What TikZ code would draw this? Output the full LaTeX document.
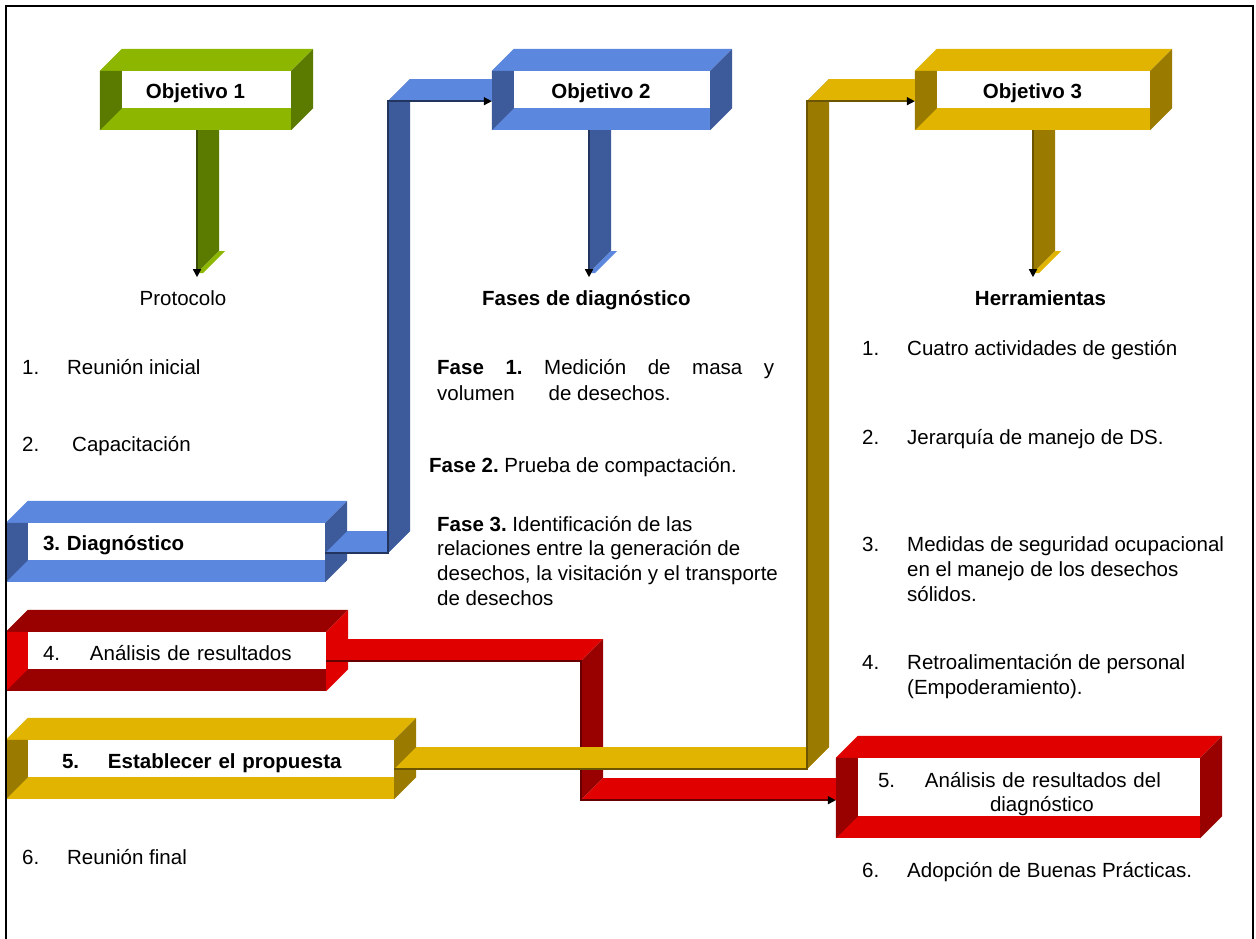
\documentclass[tikz,border=0pt]{standalone}
\usepackage{fontspec}
\setmainfont{Liberation Sans}
\frenchspacing
\usetikzlibrary{arrows.meta,calc}
\pgfdeclarelayer{background}
\pgfsetlayers{background,main}

\definecolor{grnlt}{HTML}{8DB600}
\definecolor{grndk}{HTML}{5B7B00}
\definecolor{grnln}{HTML}{3A4D00}
\definecolor{blult}{HTML}{5B87DE}
\definecolor{bludk}{HTML}{3D5B9B}
\definecolor{bluln}{HTML}{22355E}
\definecolor{yellt}{HTML}{E0B400}
\definecolor{yeldk}{HTML}{9A7B00}
\definecolor{yelln}{HTML}{6B5500}
\definecolor{redlt}{HTML}{E00000}
\definecolor{reddk}{HTML}{990000}
\definecolor{redln}{HTML}{660000}

% frame round a white box node: node, face colour, side colour
\newcommand{\frontbox}[3]{%
  \begin{pgfonlayer}{background}
    \fill[#2] ($(#1.north west)+(-22,0)$) rectangle ($(#1.south east)+(0,22)$);
    \fill[#2] ($(#1.north west)+(-22,0)$) -- ($(#1.north west)+(0,-22)$)
      -- ($(#1.north east)+(22,-22)$) -- (#1.north east) -- cycle;
    \fill[#3] ($(#1.north west)+(-22,0)$) -- (#1.north west) -- (#1.south west)
      -- ($(#1.south west)+(-22,22)$) -- cycle;
    \fill[#3] (#1.north east) -- ($(#1.north east)+(22,-22)$)
      -- ($(#1.south east)+(22,0)$) -- ($(#1.south east)+(0,22)$) -- cycle;
  \end{pgfonlayer}}

\begin{document}
\begin{tikzpicture}[
  x=1pt, y=-1pt,
  every node/.style={font=\fontsize{20.5}{24.6}\selectfont, inner sep=0pt},
  box/.style={fill=white, inner sep=0pt, text height=19pt, text depth=0pt},
  item/.style={anchor=base west, align=left},
  link/.style={draw=#1, line width=1.5pt, line join=miter,
    -{Triangle[length=8pt,width=8pt,color=black]}}
]
\path[use as bounding box] (0,0) rectangle (1256,939);
\draw[line width=1.5pt] (6,939) -- (6,6) -- (1253,6) -- (1253,939);

% top row
\node[box, minimum width=169pt, minimum height=37pt] (obj1) at (206.5,89.5)
  {\hspace*{-22pt}\textbf{Objetivo 1}};
\node[box, minimum width=196pt, minimum height=37pt] (obj2) at (612,89.5)
  {\hspace*{-22pt}\textbf{Objetivo 2}};
\node[box, minimum width=213pt, minimum height=37pt] (obj3) at (1043.5,89.5)
  {\hspace*{-22pt}\textbf{Objetivo 3}};
\frontbox{obj1}{grnlt}{grndk}
\frontbox{obj2}{blult}{bludk}
\frontbox{obj3}{yellt}{yeldk}

% left column boxes
\node[box, text width=297pt, align=left, minimum height=37pt, text height=17pt] (diag) at (176.5,541.5)
  {\hspace*{15pt}\textbf{3. Diagnóstico}};
\node[box, text width=298pt, align=left, minimum height=37pt] (ana) at (177,650.5)
  {\hspace*{15pt}\makebox[47pt][l]{4.}Análisis de resultados};
\node[box, text width=366pt, align=left, minimum height=37pt, text height=20pt] (est) at (211,758.5)
  {\hspace*{34pt}\textbf{\makebox[46pt][l]{5.}Establecer el propuesta}};
\node[box, text width=342pt, align=left, minimum height=58pt, text height=29pt, text depth=29pt] (res) at (1029,787)
  {\hspace*{20pt}\makebox[47pt][l]{5.}Análisis de resultados del\\
   \hspace*{132pt}diagnóstico};
\frontbox{diag}{blult}{bludk}
\frontbox{ana}{reddk}{redlt}
\frontbox{est}{yellt}{yeldk}
\frontbox{res}{redlt}{reddk}

% texts
\node[anchor=base] (prot) at (183,305) {Protocolo};
\node[item] (l1) at (22,374) {\makebox[45pt][l]{1.}Reunión inicial};
\node[item] (l2) at (22,451) {\makebox[50pt][l]{2.}Capacitación};
\node[item] (l6) at (22,864) {\makebox[45pt][l]{6.}Reunión final};

\node[item] (fases) at (482,305) {\textbf{Fases de diagnóstico}};
\node[item, font=\fontsize{20.5}{26}\selectfont] (f1) at (437,400)
  {\hbox to 337pt{\textbf{Fase}\hfill\textbf{1.}\hfill Medición\hfill de\hfill masa\hfill y}\\
   volumen\hspace{34pt}de desechos.};
\node[item] (f2) at (429,472) {\textbf{Fase 2.} Prueba de compactación.};
\node[item] (f3) at (437,605)
  {\textbf{Fase 3.} Identificación de las\\
   relaciones entre la generación de\\
   desechos, la visitación y el transporte\\
   de desechos};

\node[anchor=base] (herr) at (1040.5,305) {\textbf{Herramientas}};
\node[item] (h1) at (862,355) {\makebox[45pt][l]{1.}Cuatro actividades de gestión};
\node[item] (h2) at (862,444) {\makebox[45pt][l]{2.}Jerarquía de manejo de DS.};
\node[item] (h3) at (862,601)
  {\makebox[45pt][l]{3.}Medidas de seguridad ocupacional\\
   \hspace*{45pt}en el manejo de los desechos\\
   \hspace*{45pt}sólidos.};
\node[item] (h4) at (862,694)
  {\makebox[45pt][l]{4.}Retroalimentación de personal\\
   \hspace*{45pt}(Empoderamiento).};
\node[item] (h6) at (862,877) {\makebox[45pt][l]{6.}Adopción de Buenas Prácticas.};

% down arrows under the objectives
\coordinate (p1) at ($(obj1.south)+(-9.5,22)$);
\coordinate (p1end) at ($(p1)+(0,147)$);
\fill[grndk] (p1) -- ($(p1)+(0,143)$) -- ($(p1)+(22,121)$) -- ($(p1)+(22,0)$) -- cycle;
\fill[grnlt] ($(p1)+(0,143)$) -- ($(p1)+(22,121)$) -- ($(p1)+(28,121)$) -- ($(p1)+(6,143)$) -- cycle;
\draw[link=grnln] (p1) -- (p1end);

\coordinate (p2) at ($(obj2.south)+(-23,22)$);
\coordinate (p2end) at ($(p2)+(0,147)$);
\fill[bludk] (p2) -- ($(p2)+(0,143)$) -- ($(p2)+(22,121)$) -- ($(p2)+(22,0)$) -- cycle;
\fill[blult] ($(p2)+(0,143)$) -- ($(p2)+(22,121)$) -- ($(p2)+(28,121)$) -- ($(p2)+(6,143)$) -- cycle;
\draw[link=bluln] (p2) -- (p2end);

\coordinate (p3) at ($(obj3.south)+(-10.5,22)$);
\coordinate (p3end) at ($(p3)+(0,147)$);
\fill[yeldk] (p3) -- ($(p3)+(0,143)$) -- ($(p3)+(22,121)$) -- ($(p3)+(22,0)$) -- cycle;
\fill[yellt] ($(p3)+(0,143)$) -- ($(p3)+(22,121)$) -- ($(p3)+(28,121)$) -- ($(p3)+(6,143)$) -- cycle;
\draw[link=yelln] (p3) -- (p3end);

% diagnostico -> objetivo 2
\coordinate (bx) at (388,0);
\coordinate (b0) at ($(diag.south east)+(0,-7)$);
\coordinate (b1) at (b0 -| bx);
\coordinate (b3) at ($(obj2.south west)+(-22,-7)$);
\coordinate (b2) at (b3 -| bx);
\fill[blult] (b0) -- (b1) -- ($(b1)+(22,-22)$) -- ($(b0)+(22,-22)$) -- cycle;
\fill[bludk] (b1) -- (b2) -- ($(b2)+(22,-22)$) -- ($(b1)+(22,-22)$) -- cycle;
\fill[blult] (b2) -- (b3) -- ($(b3)+(0,-22)$) -- ($(b2)+(22,-22)$) -- cycle;
\draw[link=bluln] (b0) -- (b1) -- (b2) -- (b3);

% analisis -> resultados del diagnostico
\coordinate (rx) at (581,0);
\coordinate (r0) at ($(ana.south east)+(0,-8)$);
\coordinate (r1) at (r0 -| rx);
\coordinate (r3) at ($(res.south west)+(-22,-16)$);
\coordinate (r2) at (r3 -| rx);
\fill[redlt] (r0) -- (r1) -- ($(r1)+(22,-22)$) -- ($(r0)+(22,-22)$) -- cycle;
\fill[reddk] (r1) -- (r2) -- ($(r2)+(22,-22)$) -- ($(r1)+(22,-22)$) -- cycle;
\fill[redlt] (r2) -- (r3) -- ($(r3)+(0,-22)$) -- ($(r2)+(22,-22)$) -- cycle;
\draw[link=redln] (r0) -- (r1) -- (r2) -- (r3);

% propuesta -> objetivo 3
\coordinate (yx) at (807,0);
\coordinate (y0) at ($(est.south east)+(0,-8)$);
\coordinate (y1) at (y0 -| yx);
\coordinate (y3) at ($(obj3.south west)+(-22,-7)$);
\coordinate (y2) at (y3 -| yx);
\fill[yellt] (y0) -- (y1) -- ($(y1)+(22,-22)$) -- ($(y0)+(22,-22)$) -- cycle;
\fill[yeldk] (y1) -- (y2) -- ($(y2)+(22,-22)$) -- ($(y1)+(22,-22)$) -- cycle;
\fill[yellt] (y2) -- (y3) -- ($(y3)+(0,-22)$) -- ($(y2)+(22,-22)$) -- cycle;
\draw[link=yelln] (y0) -- (y1) -- (y2) -- (y3);
\end{tikzpicture}
\end{document}
